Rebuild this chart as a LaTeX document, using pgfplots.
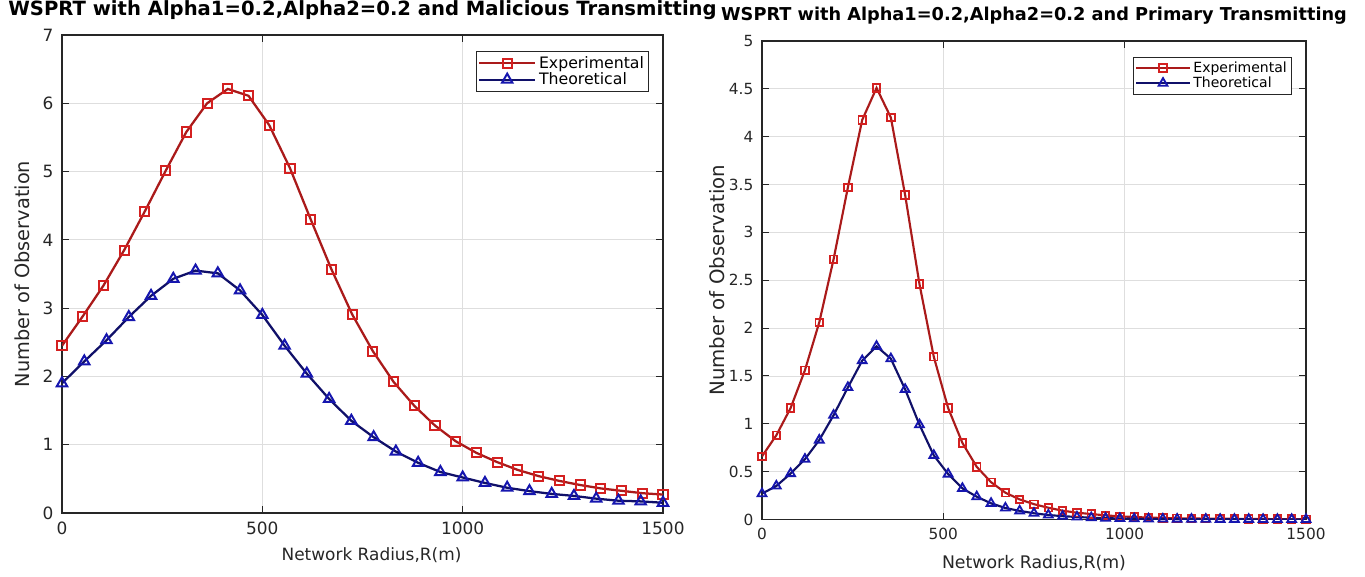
\documentclass[border=0pt]{standalone}
\usepackage{fontspec}
\setmainfont{DejaVu Sans}
\usepackage{pgfplots}
\pgfplotsset{compat=1.18}
\usepackage{pgfplotstable}

\definecolor{expline}{RGB}{170,26,26}
\definecolor{expmark}{RGB}{212,32,32}
\definecolor{theline}{RGB}{16,16,105}
\definecolor{themark}{RGB}{22,22,175}
\definecolor{axgray}{RGB}{38,38,38}
\definecolor{gridgray}{RGB}{222,222,222}

% Left panel: Malicious transmitting
\pgfplotstableread{
x y
0 2.45
51.7 2.88
103.4 3.33
155.2 3.85
206.9 4.42
258.6 5.01
310.3 5.58
362.1 6.00
413.8 6.21
465.5 6.11
517.2 5.68
569.0 5.05
620.7 4.30
672.4 3.57
724.1 2.91
775.9 2.37
827.6 1.92
879.3 1.57
931.0 1.28
982.8 1.05
1034.5 0.88
1086.2 0.745
1137.9 0.63
1189.7 0.54
1241.4 0.47
1293.1 0.41
1344.8 0.36
1396.6 0.325
1448.3 0.29
1500 0.27
}\leftexp

\pgfplotstableread{
x y
0 1.90
55.6 2.22
111.1 2.53
166.7 2.87
222.2 3.18
277.8 3.43
333.3 3.55
388.9 3.51
444.4 3.26
500 2.90
555.6 2.45
611.1 2.04
666.7 1.67
722.2 1.35
777.8 1.11
833.3 0.90
888.9 0.735
944.4 0.60
1000 0.52
1055.6 0.44
1111.1 0.37
1166.7 0.32
1222.2 0.28
1277.8 0.25
1333.3 0.21
1388.9 0.18
1444.4 0.17
1500 0.15
}\leftthe

% Right panel: Primary transmitting
\pgfplotstableread{
x y
0 0.66
39.5 0.88
78.9 1.165
118.4 1.56
157.9 2.06
197.4 2.72
236.8 3.47
276.3 4.175
315.8 4.51
355.3 4.20
394.7 3.39
434.2 2.46
473.7 1.70
513.2 1.165
552.6 0.80
592.1 0.55
631.6 0.39
671.1 0.28
710.5 0.21
750 0.16
789.5 0.123
828.9 0.092
868.4 0.071
907.9 0.057
947.4 0.043
986.8 0.033
1026.3 0.026
1065.8 0.020
1105.3 0.016
1144.7 0.013
1184.2 0.011
1223.7 0.009
1263.2 0.008
1302.6 0.007
1342.1 0.006
1381.6 0.005
1421.1 0.004
1460.5 0.004
1500 0.003
}\rightexp

\pgfplotstableread{
x y
0 0.27
39.5 0.35
78.9 0.48
118.4 0.63
157.9 0.83
197.4 1.09
236.8 1.38
276.3 1.66
315.8 1.81
355.3 1.68
394.7 1.36
434.2 0.99
473.7 0.67
513.2 0.475
552.6 0.325
592.1 0.238
631.6 0.169
671.1 0.12
710.5 0.09
750 0.065
789.5 0.047
828.9 0.035
868.4 0.026
907.9 0.019
947.4 0.014
986.8 0.011
1026.3 0.008
1065.8 0.006
1105.3 0.005
1144.7 0.004
1184.2 0.003
1223.7 0.003
1263.2 0.002
1302.6 0.002
1342.1 0.002
1381.6 0.001
1421.1 0.001
1460.5 0.001
1500 0.001
}\rightthe

\pgfplotsset{
  matstyle/.style={
    scale only axis,
    anchor=south west,
    xmin=0, xmax=1500,
    xtick={0,500,1000,1500},
    grid=major,
    major grid style={gridgray, line width=0.6pt},
    axis line style={axgray, line width=0.8pt},
    tick style={axgray, line width=0.8pt},
    major tick length=5pt,
    tick align=inside,
    tick label style={text=axgray},
    /pgf/number format/assume math mode=true,
    /pgf/number format/1000 sep={},
    label style={text=axgray},
    legend cell align=left,
    legend style={draw=axgray, line width=0.6pt, anchor=north east, inner sep=1.5pt, row sep=-2pt, text=black},
  },
}

\begin{document}
\begin{tikzpicture}
\useasboundingbox (0,0) rectangle (1023.75pt,432pt);

% Left axis
\begin{axis}[matstyle,
  at={(46.5pt,47.25pt)},
  width=450.75pt, height=358.5pt,
  ymin=0, ymax=7, ytick={0,1,...,7},
  tick label style={font=\fontsize{12.7}{15}\selectfont},
  xticklabel style={yshift=-3pt},
  yticklabel style={xshift=-3pt},
  xlabel={Network Radius,R(m)},
  ylabel={Number of Observation},
  xlabel style={font=\fontsize{12.7}{15}\selectfont, at={(axis description cs:0.515,-0.088)}, anchor=center},
  ylabel style={font=\fontsize{14.5}{17}\selectfont, at={(axis description cs:-0.0666,0.5)}, anchor=center},
  title={WSPRT with Alpha1=0.2,Alpha2=0.2 and Malicious Transmitting},
  title style={font=\bfseries\fontsize{14.7}{17}\selectfont, at={(axis description cs:0.5,1.0356)}, anchor=center, text=black},
  legend image code/.code={\draw[mark repeat=2,mark phase=2,#1] plot coordinates {(0pt,0pt) (21pt,0pt) (42pt,0pt)};},
  legend style={at={(axis description cs:0.9767,0.9665)}, font=\fontsize{11.8}{14}\selectfont},
]
\addplot[color=expline, line width=1.7pt, mark=square, mark size=3.4pt, mark options={draw=expmark, line width=1.5pt, solid}] table[x=x,y=y] {\leftexp};
\addlegendentry{Experimental}
\addplot[color=theline, line width=1.7pt, mark=triangle, mark size=4.5pt, mark options={draw=themark, line width=1.5pt, solid}] table[x=x,y=y] {\leftthe};
\addlegendentry{Theoretical}
\end{axis}

% Right axis
\begin{axis}[matstyle,
  at={(571.5pt,42.375pt)},
  width=408pt, height=358.875pt,
  ymin=0, ymax=5, ytick={0,0.5,...,5},
  tick label style={font=\fontsize{11.5}{14}\selectfont},
  xticklabel style={yshift=-3pt},
  yticklabel style={xshift=-3pt},
  xlabel={Network Radius,R(m)},
  ylabel={Number of Observation},
  xlabel style={font=\fontsize{13}{16}\selectfont, at={(axis description cs:0.5,-0.091)}, anchor=center},
  ylabel style={font=\fontsize{14.8}{17}\selectfont, at={(axis description cs:-0.0827,0.5)}, anchor=center},
  title={WSPRT with Alpha1=0.2,Alpha2=0.2 and Primary Transmitting},
  title style={font=\bfseries\fontsize{13.3}{16}\selectfont, at={(axis description cs:0.5,1.0355)}, anchor=center, text=black, fill=white, inner xsep=2pt, inner ysep=1pt},
  legend image code/.code={\draw[mark repeat=2,mark phase=2,#1] plot coordinates {(0pt,0pt) (20pt,0pt) (40pt,0pt)};},
  legend style={at={(axis description cs:0.974,0.9676)}, font=\fontsize{10.5}{12.5}\selectfont},
]
\addplot[color=expline, line width=1.6pt, mark=square, mark size=2.8pt, mark options={draw=expmark, line width=1.4pt, solid}] table[x=x,y=y] {\rightexp};
\addlegendentry{Experimental}
\addplot[color=theline, line width=1.6pt, mark=triangle, mark size=3.8pt, mark options={draw=themark, line width=1.4pt, solid}] table[x=x,y=y] {\rightthe};
\addlegendentry{Theoretical}
\end{axis}
\end{tikzpicture}
\end{document}
